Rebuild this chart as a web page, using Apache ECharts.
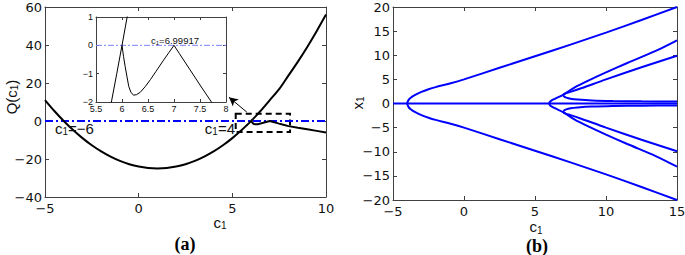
<!DOCTYPE html>
<html>
<head>
<meta charset="utf-8">
<script src="https://cdn.jsdelivr.net/npm/echarts@6/dist/echarts.min.js"></script>
<style>
  html, body { margin: 0; padding: 0; background: #fff; }
  #chart { width: 685px; height: 255px; }
</style>
</head>
<body>
<div id="chart"></div>
<script>
// (a) Q(c1) - parabola branch (extra points around the root at 6 for the inset)
const qC = [-5, -4.5, -4, -3.5, -3, -2.5, -2, -1.5, -1, -0.5, 0, 0.5, 1, 1.5, 2, 2.5, 3, 3.5, 4, 4.5, 5, 5.5, 5.8, 5.9, 6, 6.1, 6.2, 6.5, 7, 7.5, 8, 8.5, 9, 9.5, 10]
const qVal = [11, 5.25, 0, -4.75, -9, -12.75, -16, -18.75, -21, -22.75, -24, -24.75, -25, -24.75, -24, -22.75, -21, -18.75, -16, -12.75, -9, -4.75, -1.96, -0.99, 0, 1.01, 2.04, 5.25, 11, 16.75, 24, 31.25, 39, 47.25, 56]

// (a) second branch starting at c1 = 6 (dip, peak at 6.99917, then falling)
const brC = [6, 6.03, 6.06, 6.1, 6.13, 6.17, 6.22, 6.28, 6.35, 6.45, 6.55, 6.65, 6.8, 6.9, 7, 7.1, 7.3, 7.5, 7.72, 8, 8.5, 9, 9.5, 10]
const brVal = [0, -0.4, -0.74, -1.15, -1.45, -1.65, -1.76, -1.74, -1.66, -1.45, -1.2, -0.93, -0.52, -0.26, 0, -0.28, -0.84, -1.4, -2.0, -2.7, -3.6, -4.4, -5.2, -6.0]

// (b) bifurcation diagram x1 vs c1
const centerC = [-5, 15]
const centerX = [0, 0]
const outerC = [15, 12.5, 10, 7.5, 5, 2.5, 0, -1, -2, -2.5, -3, -3.5, -3.75, -3.9, -4, -3.9, -3.75, -3.5, -3, -2.5, -2, -1, 0, 2.5, 5, 7.5, 10, 12.5, 15]
const outerX = [-20, -17.3, -14.7, -12.2, -9.8, -7.4, -5.0, -4.15, -3.4, -2.95, -2.4, -1.7, -1.2, -0.75, 0, 0.75, 1.2, 1.7, 2.4, 2.95, 3.4, 4.15, 5.0, 7.4, 9.8, 12.2, 14.7, 17.3, 20]
const innerC = [15, 13.5, 11.5, 10, 8.75, 7.8, 7, 6.4, 6.15, 6.05, 6, 6.05, 6.15, 6.4, 7, 7.8, 8.75, 10, 11.5, 13.5, 15]
const innerX = [-13.1, -10.9, -8.4, -6.45, -4.75, -3.35, -1.85, -0.98, -0.6, -0.35, 0, 0.35, 0.6, 0.98, 1.85, 3.35, 4.75, 6.45, 8.4, 10.9, 13.1]
const foldUpC = [15, 12.5, 10.5, 9, 8, 7.5, 7.2, 7.05, 7, 7.05, 7.2, 7.5, 8.3, 10, 12.5, 15]
const foldUpX = [0.4, 0.45, 0.52, 0.64, 0.83, 1.0, 1.22, 1.45, 1.7, 1.95, 2.15, 2.4, 3.2, 5.0, 7.5, 9.9]
const foldLoC = [15, 12.5, 10.5, 9, 8, 7.5, 7.2, 7.05, 7, 7.05, 7.2, 7.5, 8.3, 10, 12.5, 15]
const foldLoX = [-0.4, -0.45, -0.52, -0.64, -0.83, -1.0, -1.22, -1.45, -1.7, -1.95, -2.15, -2.4, -3.2, -5.0, -7.5, -9.9]

const zip = (xs, ys) => xs.map((x, i) => [x, ys[i]])

const axisColor = '#404040'
const textColor = '#111'
const sans = 'Liberation Sans, Arial, sans-serif'
const tickFont = 'DejaVu Sans, sans-serif'
const minus = v => String(v).replace('-', '\u2212')

// four axes per grid so the frame and the inside ticks go all round
function boxAxes(grid, xr, yr, fs, lh, xMargin, yMargin) {
  const line = { show: true, onZero: false, lineStyle: { color: axisColor, width: 1 } }
  const tick = { show: true, inside: true, length: fs > 11 ? 4 : 3, lineStyle: { color: axisColor } }
  const label = m => ({
    show: true, fontSize: fs, lineHeight: lh, fontFamily: fs > 11 ? tickFont : sans, color: textColor, margin: m,
    formatter: minus, showMinLabel: true, showMaxLabel: true, hideOverlap: false
  })
  const base = r => ({ gridIndex: grid, type: 'value', min: r.min, max: r.max, interval: r.step,
    axisLine: line, axisTick: tick, splitLine: { show: false } })
  return {
    x: [
      Object.assign(base(xr), { position: 'bottom', axisLabel: label(xMargin) }),
      Object.assign(base(xr), { position: 'top', axisLabel: { show: false } })
    ],
    y: [
      Object.assign(base(yr), { position: 'left', axisLabel: label(yMargin) }),
      Object.assign(base(yr), { position: 'right', axisLabel: { show: false } })
    ]
  }
}

const axA = boxAxes(0, { min: -5, max: 10, step: 5 }, { min: -40, max: 60, step: 20 }, 13, 10, 6, 3)
const axIn = boxAxes(1, { min: 5.5, max: 8, step: 0.5 }, { min: -2, max: 1, step: 1 }, 9, 7, 3.5, 3)
const axB = boxAxes(2, { min: -5, max: 15, step: 5 }, { min: -20, max: 20, step: 5 }, 13, 10, 6.5, 3)

function richText(x, y, parts, fs, align, rotation) {
  const rich = {
    m: { fontSize: fs, fontFamily: sans, fill: textColor, lineHeight: fs + 2 },
    s: { fontSize: Math.round(fs * 0.68), fontFamily: sans, fill: textColor, verticalAlign: 'bottom', lineHeight: Math.round(fs * 0.4) }
  }
  return {
    type: 'text', x: x, y: y, rotation: rotation || 0, z: 100,
    style: { text: parts, rich: rich, align: align || 'center', verticalAlign: 'middle' }
  }
}

const option = {
  animation: false,
  backgroundColor: '#fff',
  grid: [
    { left: 45, top: 7, width: 281, height: 190, outerBoundsMode: 'none', containLabel: false },
    { left: 96, top: 17, width: 130, height: 85, show: true, backgroundColor: '#fff', borderWidth: 0, outerBoundsMode: 'none', containLabel: false },
    { left: 393, top: 7, width: 284, height: 193, outerBoundsMode: 'none', containLabel: false }
  ],
  xAxis: [].concat(axA.x, axIn.x, axB.x),
  yAxis: [].concat(axA.y, axIn.y, axB.y),
  series: [
    // (a) main plot
    {
      type: 'line', xAxisIndex: 0, yAxisIndex: 0, data: zip([-5, 10], [0, 0]), symbol: 'none',
      lineStyle: { color: '#0000ff', width: 2, type: [8, 3, 2, 3] },
      markArea: {
        silent: true,
        itemStyle: { color: 'rgba(0,0,0,0)', borderColor: '#000', borderWidth: 2, borderType: [6, 4] },
        data: [[{ coord: [5.18, 3.8] }, { coord: [8.08, -5.8] }]]
      },
      markLine: {
        silent: true, symbol: ['none', 'arrow'], symbolSize: [7, 9],
        label: { show: false },
        lineStyle: { color: '#000', width: 1, type: 'solid' },
        data: [[{ coord: [5.77, 4.7] }, { coord: [4.82, 12.5] }]]
      }
    },
    { type: 'line', xAxisIndex: 0, yAxisIndex: 0, data: zip(qC, qVal), symbol: 'none', smooth: 0.3,
      lineStyle: { color: '#000', width: 2 } },
    { type: 'line', xAxisIndex: 0, yAxisIndex: 0, data: zip(brC, brVal), symbol: 'none',
      lineStyle: { color: '#000', width: 2 } },
    // (a) inset
    { type: 'line', xAxisIndex: 2, yAxisIndex: 2, data: zip([5.5, 8], [0, 0]), symbol: 'none', z: 5,
      lineStyle: { color: '#7f7fff', width: 1, type: [6, 2, 2, 2] } },
    { type: 'line', xAxisIndex: 2, yAxisIndex: 2, data: zip(qC, qVal), symbol: 'none', z: 5,
      lineStyle: { color: '#000', width: 1 } },
    { type: 'line', xAxisIndex: 2, yAxisIndex: 2, data: zip(brC, brVal), symbol: 'none', z: 5,
      lineStyle: { color: '#000', width: 1 } },
    // (b)
    ...[[centerC, centerX], [outerC, outerX], [innerC, innerX], [foldUpC, foldUpX], [foldLoC, foldLoX]].map(p => ({
      type: 'line', xAxisIndex: 4, yAxisIndex: 4, data: zip(p[0], p[1]), symbol: 'none', smooth: 0.3,
      lineStyle: { color: '#0000ff', width: 2 }
    }))
  ],
  graphic: [
    richText(11, 97, '{m|Q(c}{s|1}{m|)}', 15, 'center', Math.PI / 2),
    richText(220, 222, '{m|c}{s|1}', 15),
    richText(55, 128, '{m|c}{s|1}{m|=\u22126}', 15, 'left'),
    richText(235, 128, '{m|c}{s|1}{m|=4}', 15, 'right'),
    richText(175, 40, '{m|c}{s|1}{m|=6.99917}', 9.5),
    richText(357, 103, '{m|x}{s|1}', 15, 'center', Math.PI / 2),
    richText(536, 226.5, '{m|c}{s|1}', 15),
    { type: 'text', x: 185, y: 244, style: { text: '(a)', font: 'bold 18px "Liberation Serif", "Times New Roman", serif', fill: '#000', align: 'center', verticalAlign: 'middle' } },
    { type: 'text', x: 537, y: 246, style: { text: '(b)', font: 'bold 18px "Liberation Serif", "Times New Roman", serif', fill: '#000', align: 'center', verticalAlign: 'middle' } }
  ]
}

const chart = echarts.init(document.getElementById('chart'), null, { renderer: 'svg' })
chart.setOption(option)
</script>
</body>
</html>
